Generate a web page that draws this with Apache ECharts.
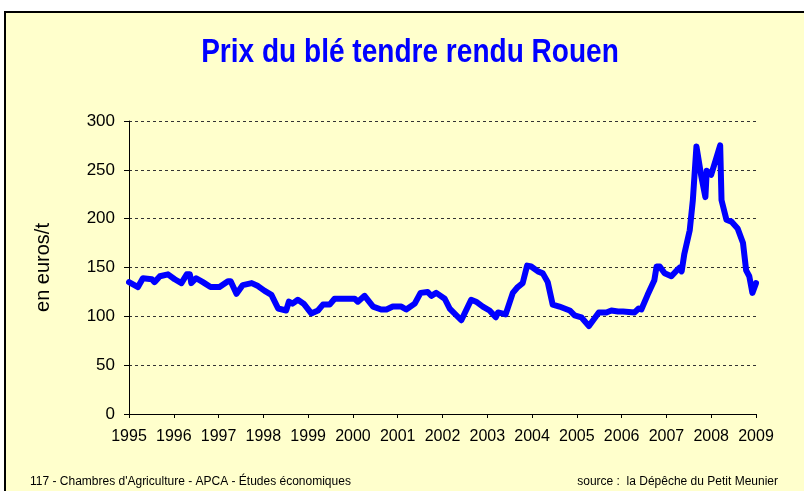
<!DOCTYPE html>
<html>
<head>
<meta charset="utf-8">
<script src="https://cdn.jsdelivr.net/npm/echarts@6/dist/echarts.min.js"></script>
<style>
  html, body { margin: 0; padding: 0; background: #ffffff; }
  #chart { width: 804px; height: 491px; }
</style>
</head>
<body>
<div id="chart"></div>
<script>
// dates in decimal years
const dates = [
  1995.00, 1995.20, 1995.31, 1995.51, 1995.57, 1995.69, 1995.87,
  1996.02, 1996.17, 1996.29, 1996.36, 1996.39, 1996.50, 1996.65, 1996.82,
  1997.02, 1997.21, 1997.27, 1997.40, 1997.54, 1997.74, 1997.88,
  1998.03, 1998.18, 1998.33, 1998.51, 1998.57, 1998.65, 1998.77, 1998.90,
  1999.07, 1999.22, 1999.33, 1999.48, 1999.59, 1999.78,
  2000.04, 2000.11, 2000.26, 2000.45, 2000.63, 2000.75, 2000.89,
  2001.08, 2001.19, 2001.38, 2001.51, 2001.67, 2001.75, 2001.86,
  2002.05, 2002.16, 2002.42, 2002.64, 2002.75, 2002.90,
  2003.05, 2003.19, 2003.24, 2003.41, 2003.44, 2003.57, 2003.68, 2003.79, 2003.89, 2003.98,
  2004.13, 2004.24, 2004.35, 2004.46, 2004.61, 2004.84, 2004.95,
  2005.10, 2005.27, 2005.49, 2005.66, 2005.77, 2005.92,
  2006.03, 2006.29, 2006.38, 2006.44, 2006.58, 2006.73, 2006.78, 2006.85, 2006.96,
  2007.11, 2007.25, 2007.30, 2007.34, 2007.40, 2007.52, 2007.59, 2007.67, 2007.78, 2007.87, 2007.90,
  2008.00, 2008.10, 2008.20, 2008.23, 2008.34, 2008.45, 2008.59, 2008.71, 2008.78, 2008.85, 2008.92,
  2009.00
];
// prix en euros/t
const prices = [
  135, 130, 139, 138, 135, 141, 143,
  138, 134, 143, 143, 134, 139, 135, 130,
  130, 136, 136, 123, 132, 134, 131,
  126, 122, 108, 106, 115, 113, 117, 113,
  103, 106, 112, 112, 118, 118,
  118, 115, 121, 110, 107, 107, 110,
  110, 107, 113, 124, 125, 121, 124,
  118, 108, 96, 117, 115, 110,
  106, 99, 104, 102, 101, 124, 130, 134, 152, 151,
  146, 144, 135, 112, 110, 106, 101,
  99, 90, 104, 104, 106, 105,
  105, 104, 108, 107, 122, 137, 151, 151, 144,
  141, 148, 150, 146, 164, 188, 219, 274, 243, 222, 249,
  245, 260, 275, 219, 199, 197, 190, 175, 147, 141, 124,
  134
];
const yearTicks = [1995, 1996, 1997, 1998, 1999, 2000, 2001, 2002, 2003, 2004, 2005, 2006, 2007, 2008, 2009];

const chart = echarts.init(document.getElementById("chart"));

const narrow = "'Liberation Sans Narrow', 'Liberation Sans', Arial, sans-serif";
const regular = "'Liberation Sans', Arial, sans-serif";

const option = {
  backgroundColor: "#ffffff",
  animation: false,
  graphic: [
    {
      type: "rect",
      z: -10,
      silent: true,
      shape: { x: 5, y: 12, width: 820, height: 500 },
      style: { fill: "#ffffcc", stroke: "#000000", lineWidth: 2 },
    },
    {
      // title, squeezed like Arial Narrow
      type: "text",
      x: 410,
      y: 36,
      scaleX: 0.85,
      style: {
        text: "Prix du blé tendre rendu Rouen",
        font: "bold 33px " + regular,
        fill: "#0000ff",
        align: "center",
        verticalAlign: "top",
      },
    },
    {
      type: "text",
      left: 30,
      top: 476,
      style: {
        text: "117 - Chambres d'Agriculture - APCA - Études économiques",
        font: "12px " + narrow,
        fill: "#000000",
      },
    },
    {
      type: "text",
      right: 26,
      top: 476,
      style: {
        text: "source :  la Dépêche du Petit Meunier",
        font: "12px " + narrow,
        fill: "#000000",
      },
    },
  ],
  grid: {
    left: 129,
    right: 48,
    top: 121,
    bottom: 77,
  },
  xAxis: {
    type: "value",
    min: 1995,
    max: 2009,
    interval: 1,
    splitLine: { show: false },
    axisLine: { onZero: false, lineStyle: { color: "#000000", width: 1 } },
    axisTick: { show: true, length: 4, lineStyle: { color: "#000000" } },
    axisLabel: {
      color: "#000000",
      fontSize: 16,
      fontFamily: regular,
      margin: 15,
      formatter: (v) => (yearTicks.includes(v) ? String(v) : ""),
    },
  },
  yAxis: {
    type: "value",
    min: 0,
    max: 300,
    interval: 50,
    name: "en euros/t",
    nameLocation: "middle",
    nameGap: 76,
    nameRotate: 90,
    nameTextStyle: {
      color: "#000000",
      fontSize: 20,
      fontFamily: regular,
      padding: [0, 0, 0, 0],
    },
    axisLine: { show: true, lineStyle: { color: "#000000", width: 1 } },
    axisTick: { show: true, length: 5, lineStyle: { color: "#000000" } },
    axisLabel: {
      color: "#000000",
      fontSize: 17,
      fontFamily: regular,
      margin: 14,
    },
    splitLine: {
      show: true,
      lineStyle: { color: "#333333", type: [3, 3], width: 1 },
    },
  },
  series: [
    {
      name: "Prix",
      type: "line",
      data: dates.map((d, i) => [d, prices[i]]),
      showSymbol: false,
      clip: false,
      lineStyle: { color: "#0000ff", width: 6, join: "round", cap: "round" },
    },
  ],
};

chart.setOption(option);
</script>
</body>
</html>
